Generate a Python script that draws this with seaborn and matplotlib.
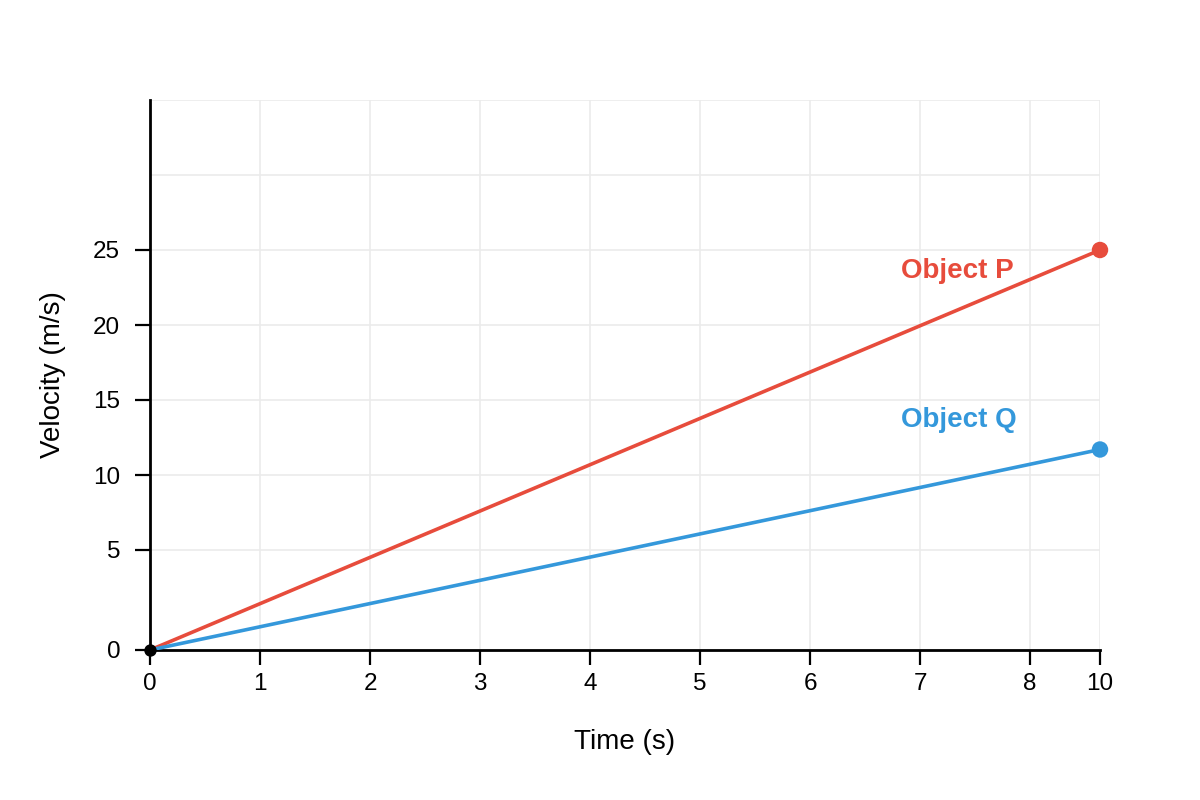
import numpy as np
import pandas as pd
import matplotlib
matplotlib.use("Agg")
import matplotlib.pyplot as plt
import seaborn as sns

# data
time_s = [0, 10]
velocity_p = [0, 25]
velocity_q = [0, 11.7]
x_ticks = [0, 1, 2, 3, 4, 5, 6, 7, 8, 10]
y_ticks = [0, 5, 10, 15, 20, 25]
y_grid_extra = [30, 35]
series_names = ["Object P", "Object Q"]
series_colors = ["#e74c3c", "#3498db"]


# the reference axes are piecewise linear (8->10 squeezed, 0->5 stretched)
def fx(v):
    v = np.asarray(v, dtype=float)
    return np.where(v <= 8, v, 8 + (v - 8) * 35 / 110)


def fx_inv(u):
    u = np.asarray(u, dtype=float)
    return np.where(u <= 8, u, 8 + (u - 8) * 110 / 35)


def fy(v):
    v = np.asarray(v, dtype=float)
    return np.where(v <= 5, v * 20, 100 + (v - 5) * 15)


def fy_inv(u):
    u = np.asarray(u, dtype=float)
    return np.where(u <= 100, u / 20, 5 + (u - 100) / 15)


sns.set_theme(style="white")
plt.rcParams["font.family"] = ["Liberation Sans", "DejaVu Sans"]

df = pd.DataFrame({
    "time": time_s * 2,
    "velocity": velocity_p + velocity_q,
    "object": [series_names[0]] * 2 + [series_names[1]] * 2,
})
ends = df[df["time"] == time_s[-1]]
origin = df[(df["time"] == 0) & (df["object"] == series_names[0])]

fig = plt.figure(figsize=(12, 8), dpi=100)
ax = fig.add_axes([0.125, 0.1875, 0.79167, 0.6875])
ax.set_xscale("function", functions=(fx, fx_inv))
ax.set_yscale("function", functions=(fy, fy_inv))

palette = dict(zip(series_names, series_colors))
sns.lineplot(data=df, x="time", y="velocity", hue="object", palette=palette,
             linewidth=2.6, legend=False, ax=ax, zorder=3)
sns.scatterplot(data=ends, x="time", y="velocity", hue="object", palette=palette,
                s=140, linewidth=0, legend=False, ax=ax, zorder=4, clip_on=False)
sns.scatterplot(data=origin, x="time", y="velocity", color="black",
                s=80, linewidth=0, legend=False, ax=ax, zorder=5, clip_on=False)

ax.set_xlim(0, 10)
ax.set_ylim(0, 35)
ax.set_xticks(x_ticks)
ax.set_xticklabels([str(t) for t in x_ticks])
ax.set_yticks(y_ticks)
ax.set_yticklabels([str(t) for t in y_ticks])
ax.set_yticks(y_grid_extra, minor=True)
ax.set_xticks([], minor=True)

ax.grid(True, which="both", color="#ebebeb", linewidth=1.2)
ax.set_axisbelow(True)
ax.tick_params(axis="both", which="major", bottom=True, left=True,
               length=10.5, width=1.6, color="black",
               labelsize=17.5, labelcolor="black")
ax.tick_params(axis="y", which="major", pad=11)
ax.tick_params(axis="x", which="major", pad=6)
ax.tick_params(axis="y", which="minor", left=False, length=0)

for side in ["top", "right"]:
    ax.spines[side].set_visible(False)
for side in ["left", "bottom"]:
    ax.spines[side].set_color("black")
    ax.spines[side].set_linewidth(2.0)
    ax.spines[side].set_zorder(2.5)

ax.set_xlabel("Time (s)", fontsize=20, color="black")
ax.set_ylabel("Velocity (m/s)", fontsize=20, color="black")
ax.xaxis.set_label_coords(0.5, -0.143)
ax.yaxis.set_label_coords(-0.088, 0.5)

ax.text(6.83, 23.6, series_names[0], color=series_colors[0], fontsize=20,
        fontweight="bold", ha="left", va="center")
ax.text(6.83, 13.67, series_names[1], color=series_colors[1], fontsize=20,
        fontweight="bold", ha="left", va="center")

fig.savefig("out.png", dpi=100)
